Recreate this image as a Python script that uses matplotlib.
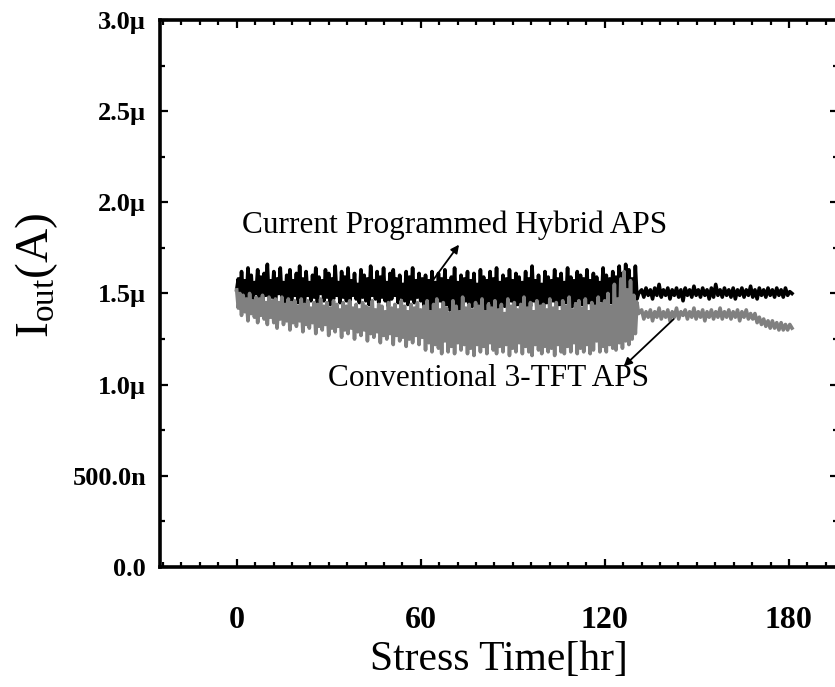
import numpy as np
import matplotlib
matplotlib.use('Agg')
import matplotlib.pyplot as plt
from matplotlib.ticker import MultipleLocator, FixedLocator, FixedFormatter

plt.rcParams['font.family'] = ['Liberation Serif', 'DejaVu Serif']
plt.rcParams['mathtext.fontset'] = 'custom'
plt.rcParams['mathtext.rm'] = 'Liberation Serif'
plt.rcParams['mathtext.it'] = 'Liberation Serif:italic'

# 데이터 (I_out, 단위 uA) - 그림에서 읽은 값
# Current Programmed Hybrid APS, 0 ~ 131 hr (촘촘한 측정)
hybrid_early = [
    1.52, 1.58, 1.47, 1.62, 1.49, 1.57, 1.45, 1.64, 1.48, 1.60, 1.46, 1.56, 1.50, 1.63, 1.47, 1.59,
    1.45, 1.61, 1.49, 1.66, 1.46, 1.57, 1.48, 1.62, 1.44, 1.58, 1.50, 1.64, 1.47, 1.56, 1.45, 1.60,
    1.48, 1.63, 1.46, 1.57, 1.49, 1.61, 1.45, 1.65, 1.47, 1.58, 1.44, 1.62, 1.49, 1.56, 1.46, 1.60,
    1.48, 1.64, 1.45, 1.59, 1.50, 1.57, 1.46, 1.63, 1.48, 1.61, 1.44, 1.58, 1.47, 1.65, 1.49, 1.56,
    1.45, 1.62, 1.48, 1.59, 1.46, 1.64, 1.43, 1.57, 1.49, 1.61, 1.47, 1.55, 1.45, 1.63, 1.48, 1.60,
    1.46, 1.58, 1.44, 1.65, 1.49, 1.57, 1.47, 1.62, 1.45, 1.59, 1.48, 1.64, 1.46, 1.56, 1.43, 1.61,
    1.47, 1.63, 1.49, 1.58, 1.45, 1.60, 1.48, 1.55, 1.46, 1.62, 1.44, 1.59, 1.47, 1.64, 1.45, 1.57,
    1.48, 1.61, 1.46, 1.58,
    1.43, 1.60, 1.45, 1.57, 1.40, 1.62, 1.44, 1.56, 1.42, 1.61, 1.46, 1.58, 1.39, 1.63, 1.44, 1.57,
    1.41, 1.59, 1.45, 1.64, 1.42, 1.56, 1.38, 1.60, 1.44, 1.58, 1.46, 1.62, 1.40, 1.57, 1.43, 1.61,
    1.45, 1.55, 1.41, 1.63, 1.44, 1.59, 1.39, 1.57, 1.46, 1.62, 1.42, 1.58, 1.44, 1.64, 1.40, 1.56,
    1.45, 1.60, 1.43, 1.58, 1.41, 1.63, 1.46, 1.57, 1.38, 1.61, 1.44, 1.59, 1.42, 1.56, 1.45, 1.62,
    1.40, 1.58, 1.43, 1.65, 1.46, 1.57, 1.41, 1.60, 1.44, 1.55, 1.39, 1.62, 1.45, 1.59, 1.42, 1.57,
    1.46, 1.63, 1.40, 1.58, 1.44, 1.61, 1.42, 1.56, 1.45, 1.64, 1.39, 1.59, 1.43, 1.57, 1.46, 1.62,
    1.41, 1.60, 1.44, 1.58, 1.40, 1.63, 1.45, 1.57, 1.42, 1.61, 1.38, 1.59, 1.44, 1.56, 1.46, 1.64,
    1.41, 1.60, 1.43, 1.58, 1.45, 1.62, 1.40, 1.59, 1.44, 1.65, 1.42, 1.61, 1.46, 1.66, 1.43, 1.63,
    1.45, 1.58, 1.41, 1.65, 1.47, 1.50,
]
# 132 ~ 181 hr
hybrid_late = [
    1.52, 1.48, 1.53, 1.49, 1.52, 1.47, 1.53, 1.49, 1.55, 1.48, 1.52, 1.49, 1.53, 1.47, 1.52, 1.49,
    1.53, 1.48, 1.52, 1.46, 1.53, 1.49, 1.52, 1.48, 1.54, 1.49, 1.52, 1.48, 1.53, 1.49, 1.52, 1.47,
    1.53, 1.48, 1.55, 1.49, 1.52, 1.48, 1.53, 1.49, 1.52, 1.48, 1.53, 1.47, 1.52, 1.49, 1.53, 1.48,
    1.52, 1.49, 1.54, 1.48, 1.52, 1.47, 1.53, 1.49, 1.52, 1.48, 1.53, 1.49, 1.52, 1.48, 1.53, 1.49,
    1.52, 1.48, 1.53, 1.49, 1.51, 1.50,
]

# Conventional 3-TFT APS
conv_early = [
    1.52, 1.42, 1.50, 1.38, 1.49, 1.40, 1.47, 1.35, 1.50, 1.39, 1.46, 1.37, 1.48, 1.34, 1.47, 1.38,
    1.49, 1.36, 1.45, 1.33, 1.48, 1.37, 1.46, 1.34, 1.47, 1.31, 1.45, 1.36, 1.48, 1.33, 1.44, 1.35,
    1.47, 1.30, 1.45, 1.34, 1.46, 1.32, 1.43, 1.35, 1.47, 1.29, 1.44, 1.33, 1.46, 1.31, 1.42, 1.34,
    1.45, 1.28, 1.44, 1.32, 1.47, 1.30, 1.43, 1.33, 1.45, 1.27, 1.42, 1.31, 1.46, 1.29, 1.44, 1.32,
    1.41, 1.26, 1.45, 1.30, 1.43, 1.28, 1.46, 1.31, 1.42, 1.25, 1.44, 1.29, 1.41, 1.27, 1.45, 1.30,
    1.43, 1.24, 1.42, 1.28, 1.46, 1.26, 1.41, 1.29, 1.44, 1.23, 1.43, 1.27, 1.40, 1.25, 1.45, 1.28,
    1.42, 1.22, 1.44, 1.27, 1.41, 1.24, 1.46, 1.26, 1.43, 1.21, 1.40, 1.25, 1.44, 1.23, 1.42, 1.27,
    1.45, 1.22, 1.41, 1.26,
    1.43, 1.19, 1.46, 1.23, 1.40, 1.18, 1.44, 1.22, 1.47, 1.20, 1.41, 1.17, 1.45, 1.24, 1.42, 1.18,
    1.39, 1.21, 1.46, 1.17, 1.43, 1.23, 1.40, 1.19, 1.48, 1.22, 1.42, 1.17, 1.44, 1.20, 1.41, 1.16,
    1.45, 1.22, 1.43, 1.18, 1.47, 1.21, 1.40, 1.17, 1.44, 1.23, 1.42, 1.19, 1.46, 1.17, 1.41, 1.21,
    1.44, 1.18, 1.39, 1.22, 1.47, 1.16, 1.43, 1.20, 1.45, 1.18, 1.41, 1.23, 1.44, 1.17, 1.48, 1.21,
    1.42, 1.18, 1.45, 1.16, 1.40, 1.22, 1.46, 1.19, 1.43, 1.17, 1.44, 1.21, 1.41, 1.18, 1.47, 1.20,
    1.42, 1.16, 1.45, 1.22, 1.40, 1.18, 1.46, 1.17, 1.43, 1.21, 1.48, 1.18, 1.41, 1.23, 1.44, 1.17,
    1.46, 1.20, 1.42, 1.18, 1.47, 1.22, 1.40, 1.17, 1.45, 1.19, 1.43, 1.24, 1.48, 1.18, 1.44, 1.21,
    1.46, 1.18, 1.50, 1.22, 1.43, 1.20, 1.55, 1.19, 1.47, 1.23, 1.58, 1.20, 1.62, 1.24, 1.52, 1.22,
    1.57, 1.25, 1.49, 1.28, 1.45, 1.39,
]
conv_late = [
    1.41, 1.36, 1.40, 1.37, 1.41, 1.35, 1.40, 1.37, 1.42, 1.36, 1.40, 1.37, 1.41, 1.35, 1.40, 1.37,
    1.42, 1.36, 1.40, 1.38, 1.41, 1.36, 1.40, 1.37, 1.42, 1.36, 1.40, 1.37, 1.41, 1.35, 1.40, 1.37,
    1.41, 1.36, 1.40, 1.37, 1.42, 1.36, 1.40, 1.37, 1.41, 1.36, 1.40, 1.37, 1.41, 1.35, 1.40, 1.37,
    1.41, 1.36, 1.39, 1.36, 1.39, 1.34, 1.37, 1.33, 1.36, 1.32, 1.35, 1.31, 1.35, 1.31, 1.34, 1.30,
    1.34, 1.30, 1.33, 1.30, 1.33, 1.31,
]

t_early_end = 131
t_late_start, t_late_end = 132, 181

y_ticks = [0.0, 0.5, 1.0, 1.5, 2.0, 2.5, 3.0]
y_labels = ['0.0', '500.0n', '1.0\u00b5', '1.5\u00b5', '2.0\u00b5', '2.5\u00b5', '3.0\u00b5']
x_ticks = [0, 60, 120, 180]

# 시간축
t_h = np.concatenate([np.linspace(0, t_early_end, len(hybrid_early)),
                      np.linspace(t_late_start, t_late_end, len(hybrid_late))])
t_c = np.concatenate([np.linspace(0, t_early_end, len(conv_early)),
                      np.linspace(t_late_start, t_late_end, len(conv_late))])

fig = plt.figure(figsize=(8.35, 6.87), dpi=100)
ax = fig.add_axes([0.1916, 0.1747, 0.812, 0.7962])

ax.plot(t_h, np.concatenate([hybrid_early, hybrid_late]), color='black', lw=2.6)
ax.plot(t_c, np.concatenate([conv_early, conv_late]), color='#808080', lw=2.6)

ax.set_xlim(-25, 196)
ax.set_ylim(0, 3.0)

ax.xaxis.set_major_locator(FixedLocator(x_ticks))
ax.xaxis.set_minor_locator(MultipleLocator(6))
ax.yaxis.set_major_locator(FixedLocator(y_ticks))
ax.yaxis.set_major_formatter(FixedFormatter(y_labels))
ax.yaxis.set_minor_locator(MultipleLocator(0.25))

ax.tick_params(which='both', direction='in', top=True, right=True, width=1.6)
ax.tick_params(which='major', length=6)
ax.tick_params(which='minor', length=3.5)
ax.tick_params(axis='y', which='major', pad=10, labelsize=19)
ax.tick_params(axis='x', which='major', pad=28, labelsize=23)
for lab in ax.get_xticklabels() + ax.get_yticklabels():
    lab.set_fontweight('bold')

for sp in ax.spines.values():
    sp.set_linewidth(2.6)

ax.set_xlabel('Stress Time[hr]', fontsize=30)
ax.xaxis.set_label_coords(0.5, -0.135)
ax.set_ylabel(r'I$_{\rm out}$(A)', fontsize=34)
ax.yaxis.set_label_coords(-0.148, 0.532)

# 주석
ax.text(71, 1.834, 'Current Programmed Hybrid APS', fontsize=22.5, ha='center', va='baseline')
ax.annotate('', xy=(73, 1.78), xytext=(62, 1.527),
            arrowprops=dict(arrowstyle='-|>', color='black', lw=1.3, mutation_scale=12))
ax.text(82, 0.99, 'Conventional 3-TFT APS', fontsize=22.5, ha='center', va='baseline')
ax.annotate('', xy=(125.5, 1.09), xytext=(143.1, 1.37),
            arrowprops=dict(arrowstyle='-|>', color='black', lw=1.3, mutation_scale=12))

fig.savefig('out.png', dpi=100)
